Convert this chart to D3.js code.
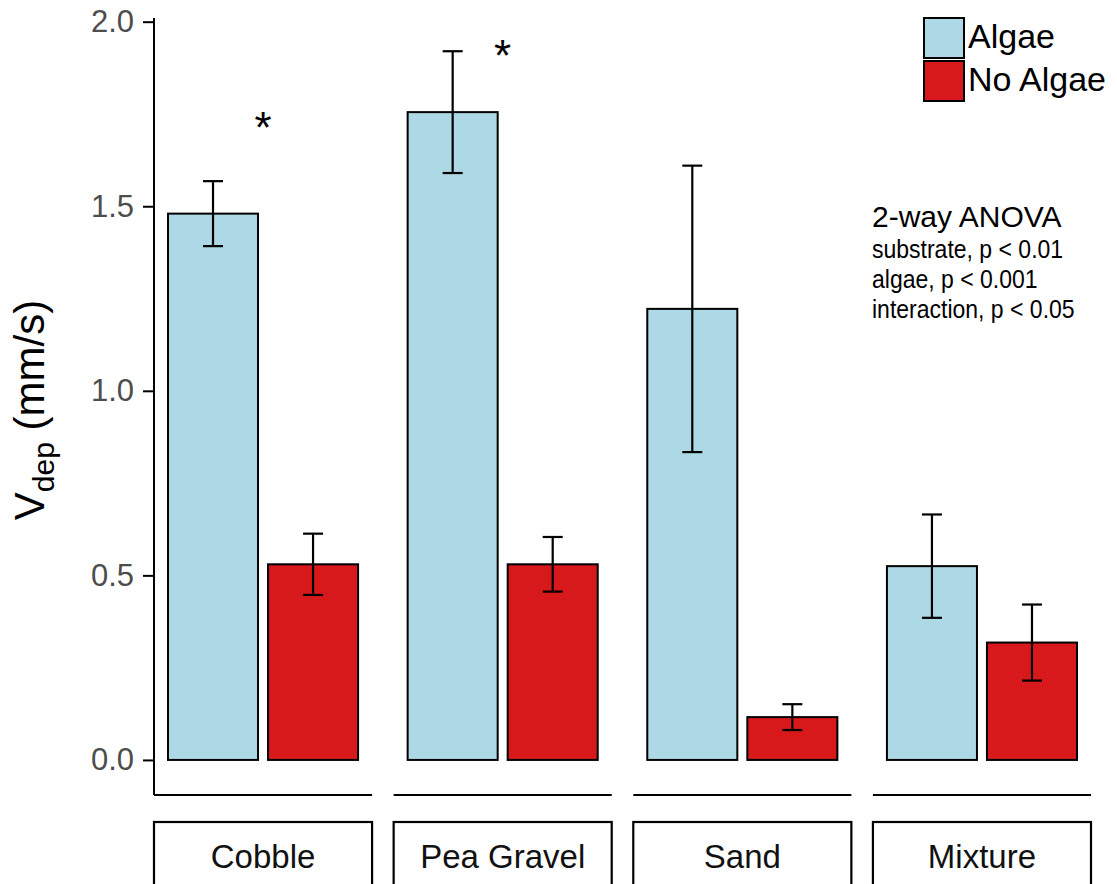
<!DOCTYPE html>
<html>
<head>
<meta charset="utf-8">
<script src="https://cdn.jsdelivr.net/npm/d3@7"></script>
<style>
  body { margin: 0; background: #fff; }
  svg { display: block; font-family: 'Liberation Sans', Arial, sans-serif; }
</style>
</head>
<body>
<svg width="1117" height="884"></svg>
<script>
'use strict';

const substrates = ['Cobble', 'Pea Gravel', 'Sand', 'Mixture'];
const treatments = ['Algae', 'No Algae'];
const algaeMean = [1.48, 1.755, 1.222, 0.525];
const algaeSe = [0.088, 0.165, 0.388, 0.14];
const noAlgaeMean = [0.53, 0.53, 0.116, 0.318];
const noAlgaeSe = [0.083, 0.074, 0.035, 0.103];
const yTicks = [0, 0.5, 1, 1.5, 2];
const stars = [{ substrate: 'Cobble', y: 1.73 }, { substrate: 'Pea Gravel', y: 1.925 }];
const anovaTitle = '2-way ANOVA';
const anovaLines = ['substrate, p < 0.01', 'algae, p < 0.001', 'interaction, p < 0.05'];

const colors = { 'Algae': '#add8e6', 'No Algae': '#d7191c' };

const rows = [];
substrates.forEach((s, i) => {
  rows.push({ substrate: s, treatment: 'Algae', mean: algaeMean[i], se: algaeSe[i] });
  rows.push({ substrate: s, treatment: 'No Algae', mean: noAlgaeMean[i], se: noAlgaeSe[i] });
});

const svg = d3.select('svg');

const panel = d3.scaleBand()
  .domain(substrates)
  .range([154, 1091])
  .paddingInner(0.09);

const inner = d3.scaleBand()
  .domain(treatments)
  .range([14, panel.bandwidth() - 14])
  .paddingInner(0.1);

const y = d3.scaleLinear()
  .domain([-0.095, 2.01])
  .range([795, 18]);

// y axis
const yAxis = svg.append('g')
  .attr('transform', `translate(${panel.range()[0]},0)`)
  .call(d3.axisLeft(y).tickValues(yTicks).tickFormat(d3.format('.1f')).tickSize(11).tickPadding(9));
yAxis.select('.domain').attr('stroke', '#000').attr('stroke-width', 2).attr('d', `M0,${y.range()[1]}V${y.range()[0]}`);
yAxis.selectAll('.tick line').attr('stroke', '#000').attr('stroke-width', 2);
yAxis.selectAll('.tick text').attr('fill', '#4d4d4d').style('font-size', '31px')
  .style('font-family', "'Liberation Sans', Arial, sans-serif");

// y title
const yTitle = svg.append('text')
  .attr('transform', 'translate(44,410) rotate(-90)')
  .attr('text-anchor', 'middle')
  .style('font-size', '42px');
yTitle.append('tspan').text('V');
yTitle.append('tspan').attr('dy', 10).style('font-size', '30px').text('dep');
yTitle.append('tspan').attr('dy', -10).text(' (mm/s)');

// panels
const panels = svg.selectAll('g.panel')
  .data(substrates)
  .enter().append('g')
    .attr('class', 'panel')
    .attr('transform', d => `translate(${panel(d)},0)`);

panels.append('line')
  .attr('x1', 0)
  .attr('x2', panel.bandwidth())
  .attr('y1', y.range()[0])
  .attr('y2', y.range()[0])
  .attr('stroke', '#000')
  .attr('stroke-width', 2);

panels.append('rect')
  .attr('x', 0)
  .attr('y', 822)
  .attr('width', panel.bandwidth())
  .attr('height', 80)
  .attr('fill', '#fff')
  .attr('stroke', '#000')
  .attr('stroke-width', 2.2);

panels.append('text')
  .attr('x', panel.bandwidth() / 2)
  .attr('y', 868)
  .attr('text-anchor', 'middle')
  .style('font-size', '33px')
  .attr('fill', '#111')
  .text(d => d);

// bars
const bar = svg.append('g')
  .selectAll('rect')
  .data(rows)
  .enter().append('rect')
    .attr('x', d => panel(d.substrate) + inner(d.treatment))
    .attr('y', d => y(d.mean))
    .attr('width', inner.bandwidth())
    .attr('height', d => y(0) - y(d.mean))
    .attr('fill', d => colors[d.treatment])
    .attr('stroke', '#000')
    .attr('stroke-width', 2);

// error bars
const capHalf = 10;
const err = svg.append('g')
  .attr('stroke', '#000')
  .attr('stroke-width', 2.2)
  .selectAll('g')
  .data(rows)
  .enter().append('g')
    .attr('transform', d => `translate(${panel(d.substrate) + inner(d.treatment) + inner.bandwidth() / 2},0)`);
err.append('line')
  .attr('y1', d => y(d.mean + d.se))
  .attr('y2', d => y(d.mean - d.se));
err.append('line')
  .attr('x1', -capHalf).attr('x2', capHalf)
  .attr('y1', d => y(d.mean + d.se))
  .attr('y2', d => y(d.mean + d.se));
err.append('line')
  .attr('x1', -capHalf).attr('x2', capHalf)
  .attr('y1', d => y(d.mean - d.se))
  .attr('y2', d => y(d.mean - d.se));

// significance stars
svg.append('g')
  .selectAll('text')
  .data(stars)
  .enter().append('text')
    .attr('x', d => panel(d.substrate) + panel.bandwidth() / 2)
    .attr('y', d => y(d.y))
    .attr('dy', 22)
    .attr('text-anchor', 'middle')
    .style('font-size', '44px')
    .text('*');

// legend
const legend = svg.append('g')
  .attr('transform', 'translate(924,18)');
const item = legend.selectAll('g')
  .data(treatments)
  .enter().append('g')
    .attr('transform', (d, i) => `translate(0,${i * 43})`);
item.append('rect')
  .attr('width', 40)
  .attr('height', 40)
  .attr('fill', d => colors[d])
  .attr('stroke', '#000')
  .attr('stroke-width', 2);
item.append('text')
  .attr('x', 44)
  .attr('y', 30)
  .style('font-size', '34px')
  .text(d => d);

// ANOVA annotation
const note = svg.append('g')
  .attr('transform', 'translate(872,0)');
note.append('text')
  .attr('y', 227)
  .style('font-size', '30px')
  .text(anovaTitle);
note.selectAll('text.line')
  .data(anovaLines)
  .enter().append('text')
    .attr('class', 'line')
    .attr('transform', (d, i) => `translate(0,${258 + i * 30}) scale(0.92,1)`)
    .style('font-size', '25px')
    .text(d => d);
</script>
</body>
</html>
